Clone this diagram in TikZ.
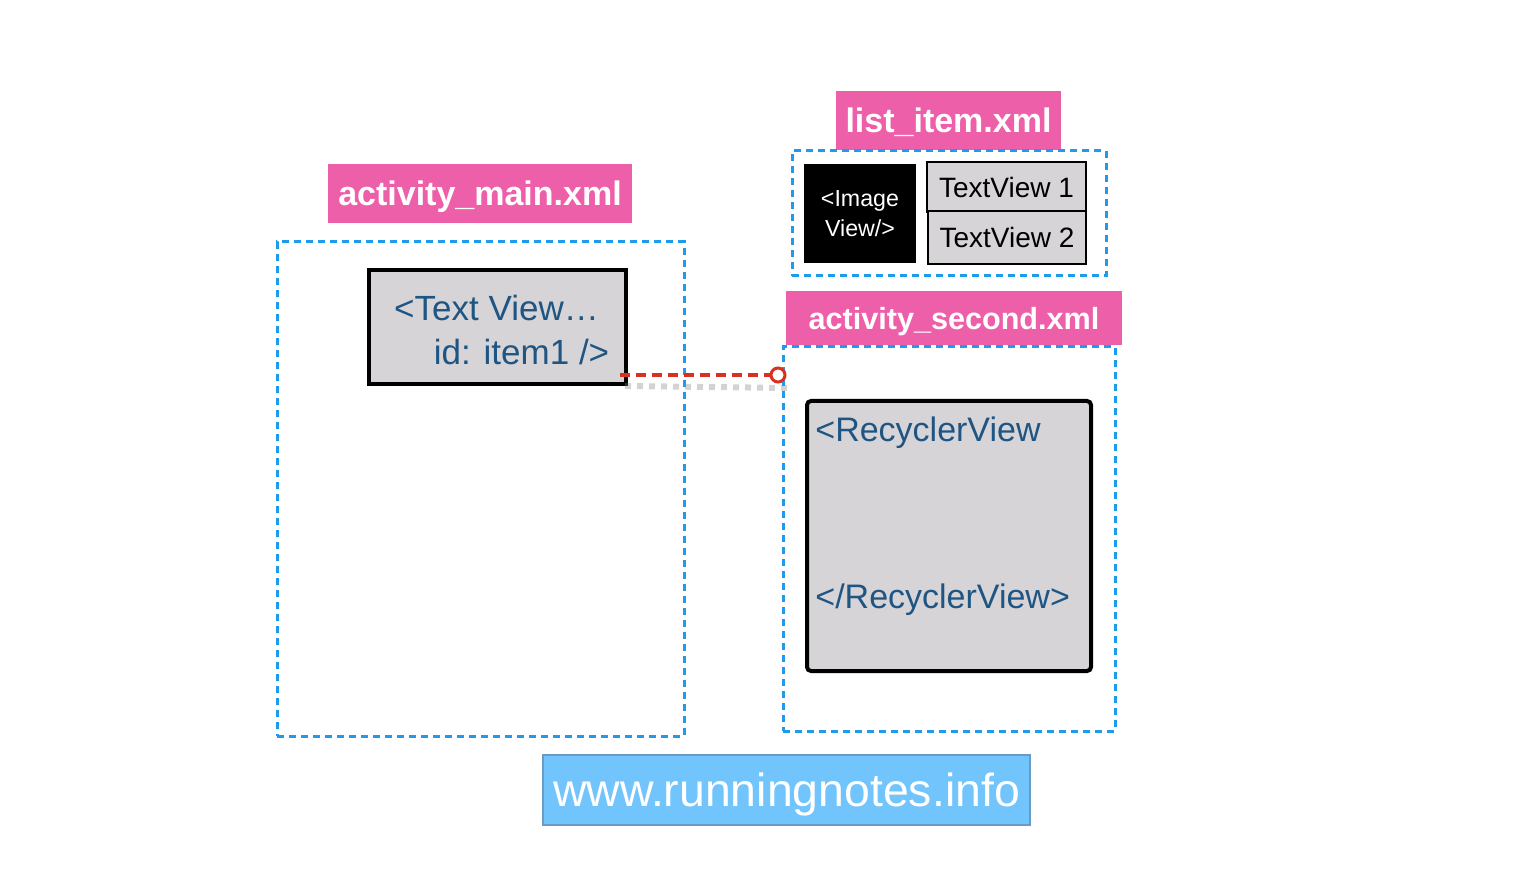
\documentclass[tikz,border=0pt]{standalone}
\usepackage{fontspec}
\setmainfont{Liberation Sans}
\definecolor{pinkl}{HTML}{EE5FA9}
\definecolor{dashblue}{HTML}{1E9CEB}
\definecolor{boxgray}{HTML}{D6D4D7}
\definecolor{codeblue}{HTML}{1F5583}
\definecolor{redc}{HTML}{D9301F}
\definecolor{webfill}{HTML}{72C4FC}
\definecolor{webdraw}{HTML}{6A9BC4}
\tikzset{
  filelabel/.style={fill=pinkl, text=white, font=\bfseries\fontsize{17}{20}\selectfont, inner sep=0pt, text depth=0pt},
  dashbox/.style={draw=dashblue, line width=1.5pt, dash pattern=on 3.5pt off 2.5pt, inner sep=0pt},
  graybox/.style={draw=black, fill=boxgray, line width=2pt, inner sep=0pt},
  smallbox/.style={draw=black, fill=boxgray, line width=1pt, inner sep=0pt, font=\fontsize{14}{16}\selectfont},
  codetext/.style={text=codeblue, inner sep=0pt, font=\fontsize{17.5}{20}\selectfont},
  link/.style={draw=redc, line width=1.6pt, dash pattern=on 5pt off 3pt},
}
\begin{document}
\begin{tikzpicture}[x=0.5pt,y=-0.5pt]
\useasboundingbox (0,0) rectangle (1530,892);
% activity_main
\node[filelabel, minimum width=152pt, minimum height=29.5pt] (amlabel) at (480,193.5) {activity\_main.xml};
\node[dashbox, minimum width=203.5pt, minimum height=247pt] (ambox) at (480.5,489) {};
\node[graybox, minimum width=128.5pt, minimum height=57pt] (tv) at (497.5,327) {};
\node[codetext] (tvl1) at (496.5,308) {<Text View…};
\node[codetext] (tvl2) at (521.5,352) {id: item1 />};
% list_item
\node[filelabel, minimum width=112.5pt, minimum height=29.5pt] (lilabel) at (948.5,120.5) {list\_item.xml};
\node[dashbox, minimum width=157pt, minimum height=62.5pt] (libox) at (949,213.5) {};
\node[fill=black, text=white, minimum width=56pt, minimum height=49.5pt, inner sep=0pt, align=center, font=\fontsize{11.6}{15}\selectfont] (img) at (860,213.5) {<Image\\View/>};
\node[smallbox, minimum width=79.5pt, minimum height=25pt] (tv1) at (1006.5,187) {TextView 1};
\node[smallbox, minimum width=79pt, minimum height=26.5pt] (tv2) at (1007,237.5) {TextView 2};
% activity_second
\node[filelabel, font=\bfseries\fontsize{15.3}{18}\selectfont, minimum width=168pt, minimum height=27pt] (aslabel) at (954,318) {activity\_second.xml};
\node[dashbox, minimum width=166pt, minimum height=192pt] (asbox) at (949,539) {};
\node[graybox, rounded corners=2pt, minimum width=142pt, minimum height=135pt] (rv) at (949,536) {};
\node[codetext, font=\fontsize{17}{20}\selectfont, anchor=west] (rv1) at (815,433) {<RecyclerView};
\node[codetext, font=\fontsize{17}{20}\selectfont, anchor=west] (rv2) at (815,600) {</RecyclerView>};
% connector
\coordinate (src) at (620,375);
\coordinate (shs) at (625,386);
\coordinate (she) at (790,388);
\draw[gray, opacity=0.35, line width=3pt, dash pattern=on 3pt off 3pt] (shs) -- (she);
\node[circle, draw=redc, fill=white, line width=1.5pt, minimum size=7pt, inner sep=0pt] (pin) at (778,375) {};
\draw[link] (src) -- (pin.west);
% website
\node[fill=webfill, draw=webdraw, line width=1pt, text=white, minimum width=243.5pt, minimum height=35pt, inner sep=0pt, text depth=0pt, font=\fontsize{23.2}{26}\selectfont] (web) at (786.5,790) {www.runningnotes.info};
\end{tikzpicture}
\end{document}
